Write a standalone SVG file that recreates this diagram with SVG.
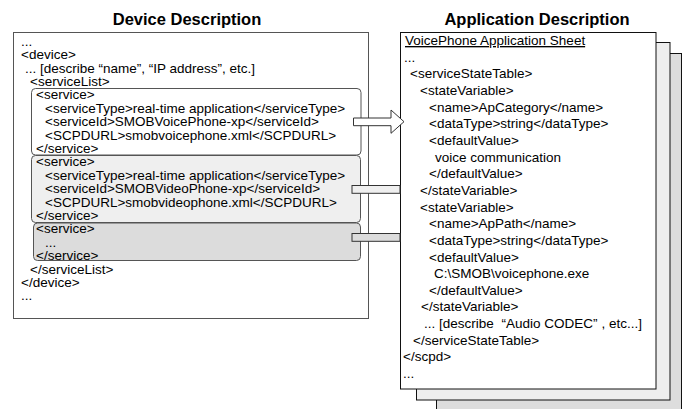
<svg xmlns="http://www.w3.org/2000/svg" width="685" height="409" viewBox="0 0 685 409">
<style>
.t{font-family:"Liberation Sans",Arial,sans-serif;font-size:13.5px;fill:#000}
.h{font-family:"Liberation Sans",Arial,sans-serif;font-size:16.5px;font-weight:bold;fill:#000;text-anchor:middle}
.box{stroke:#555;stroke-width:1}
.pg{stroke:#111;stroke-width:1}
</style>
<rect width="685" height="409" fill="#fff"/>
<text class="h" x="187" y="25">Device Description</text>
<text class="h" x="537" y="25">Application Description</text>

<g id="device-description">
<rect class="box" x="13.5" y="32.5" width="355" height="286" fill="#fff"/>
<g id="service-voice">
<rect class="box" x="31.5" y="88.5" width="329.5" height="66.5" rx="4" fill="#fff"/>
</g>
<g id="service-video">
<rect class="box" x="31.5" y="155.5" width="329" height="67" rx="4" fill="#efefef"/>
</g>
<g id="service-other">
<rect class="box" x="33.5" y="223" width="327" height="37.5" rx="4" fill="#dcdcdc"/>
</g>
<text class="t" x="21" y="45.7">...</text>
<text class="t" x="21" y="59.1">&lt;device&gt;</text>
<text class="t" x="25" y="72.5">... [describe “name”, “IP address”, etc.]</text>
<text class="t" x="30" y="85.9">&lt;serviceList&gt;</text>
<text class="t" x="36" y="99.3">&lt;service&gt;</text>
<text class="t" x="45" y="112.7">&lt;serviceType&gt;real-time application&lt;/serviceType&gt;</text>
<text class="t" x="45" y="126.1">&lt;serviceId&gt;SMOBVoicePhone-xp&lt;/serviceId&gt;</text>
<text class="t" x="45" y="139.5">&lt;SCPDURL&gt;smobvoicephone.xml&lt;/SCPDURL&gt;</text>
<text class="t" x="36" y="152.9">&lt;/service&gt;</text>
<text class="t" x="36" y="166.3">&lt;service&gt;</text>
<text class="t" x="45" y="179.7">&lt;serviceType&gt;real-time application&lt;/serviceType&gt;</text>
<text class="t" x="45" y="193.1">&lt;serviceId&gt;SMOBVideoPhone-xp&lt;/serviceId&gt;</text>
<text class="t" x="45" y="206.5">&lt;SCPDURL&gt;smobvideophone.xml&lt;/SCPDURL&gt;</text>
<text class="t" x="36" y="219.9">&lt;/service&gt;</text>
<text class="t" x="36" y="233.3">&lt;service&gt;</text>
<text class="t" x="45" y="246.7">...</text>
<text class="t" x="36" y="260.1">&lt;/service&gt;</text>
<text class="t" x="30" y="273.5">&lt;/serviceList&gt;</text>
<text class="t" x="21" y="286.9">&lt;/device&gt;</text>
<text class="t" x="21" y="300.3">...</text>
</g>

<g id="application-description">
<rect class="pg" x="436.5" y="53.5" width="245" height="365" fill="#dddddd"/>
<rect class="pg" x="416.5" y="42.5" width="253.5" height="357.5" fill="#eeeeee"/>
<rect class="pg" x="400.5" y="32.5" width="255.5" height="356.5" fill="#fff"/>
<text class="t" x="405" y="45" text-decoration="underline">VoicePhone Application Sheet</text>
<text class="t" x="404" y="61.6">...</text>
<text class="t" x="410" y="78.3">&lt;serviceStateTable&gt;</text>
<text class="t" x="420" y="95">&lt;stateVariable&gt;</text>
<text class="t" x="429" y="111.6">&lt;name&gt;ApCategory&lt;/name&gt;</text>
<text class="t" x="429" y="128.3">&lt;dataType&gt;string&lt;/dataType&gt;</text>
<text class="t" x="429" y="144.9">&lt;defaultValue&gt;</text>
<text class="t" x="435" y="161.6">voice communication</text>
<text class="t" x="429" y="178.2">&lt;/defaultValue&gt;</text>
<text class="t" x="420" y="194.9">&lt;/stateVariable&gt;</text>
<text class="t" x="420" y="211.5">&lt;stateVariable&gt;</text>
<text class="t" x="429" y="228.2">&lt;name&gt;ApPath&lt;/name&gt;</text>
<text class="t" x="429" y="244.8">&lt;dataType&gt;string&lt;/dataType&gt;</text>
<text class="t" x="429" y="261.5">&lt;defaultValue&gt;</text>
<text class="t" x="434" y="278.1">C:\SMOB\voicephone.exe</text>
<text class="t" x="429" y="294.8">&lt;/defaultValue&gt;</text>
<text class="t" x="421" y="311.4">&lt;/stateVariable&gt;</text>
<text class="t" x="424" y="328.1">... [describe <tspan dx="4">“</tspan>Audio CODEC”<tspan dx="4">,</tspan> etc...]</text>
<text class="t" x="413" y="344.7">&lt;/serviceStateTable&gt;</text>
<text class="t" x="403" y="361.4">&lt;/scpd&gt;</text>
<text class="t" x="403" y="378">...</text>
</g>

<g id="connectors">
<polygon points="353.5,118 391,118 391,110 404,121.7 391,133.3 391,125.7 353.5,125.7" fill="#fff" stroke="#333" stroke-width="1"/>
<rect x="352" y="185.5" width="48" height="7.8" fill="#efefef" stroke="#333" stroke-width="1"/>
<rect x="352" y="233.5" width="48" height="7.8" fill="#dcdcdc" stroke="#333" stroke-width="1"/>
</g>
</svg>
